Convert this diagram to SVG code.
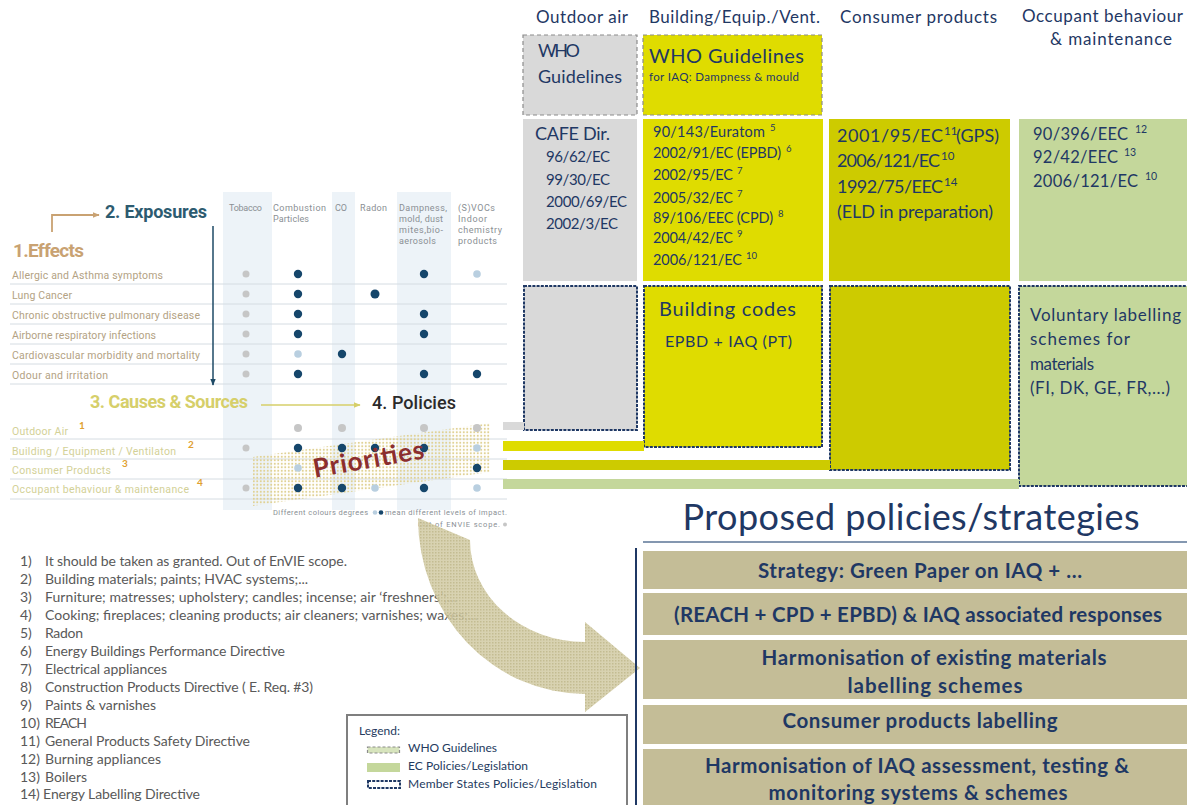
<svg xmlns="http://www.w3.org/2000/svg" width="1187" height="805" viewBox="0 0 1187 805">
<defs>
<style>
.t{font-family:Lato,"Open Sans","Liberation Sans",sans-serif;fill:#1f3864}
.hdr{font-size:17px}
.sup{font-size:9.5px}
.who{stroke:#8c8c8c;stroke-width:1.2;stroke-dasharray:4 3}
.ms{stroke:#1f3864;stroke-width:2;stroke-dasharray:3 1.2}
.gray{fill:#d9d9d9}
.yel{fill:#dfdc00}
.oli{fill:#cdcb00}
.grn{fill:#c4d79b}
.tan{fill:#c4bd97}
.pb{font-family:Lato,"Open Sans",sans-serif;font-weight:700;font-size:20.5px;fill:#1f3864;text-anchor:middle}
.fn{font-family:Lato,"Open Sans",sans-serif;font-size:14px;fill:#595959}
.lg{font-family:Lato,"Open Sans",sans-serif;font-size:12px;fill:#243a5e}
.m{font-family:Roboto,"DejaVu Sans",sans-serif}
.eff{font-size:10.5px;fill:#b3a283}
.src{font-size:10.5px;fill:#d3d197}
.colh{font-size:9px;fill:#8a8f94}
.sep{stroke:#d5dce2;stroke-width:1}
.dk{fill:#15466b}
.lb{fill:#b9cfe0}
.gy{fill:#c6c6c6}
.shade{fill:#edf3f8}
.num{font-family:Lato,sans-serif;font-weight:700;font-size:10px;fill:#e0a030}
</style>
<marker id="ahTan" viewBox="0 0 10 10" refX="9" refY="5" markerWidth="7" markerHeight="7" markerUnits="userSpaceOnUse" orient="auto"><path d="M0,1 L10,5 L0,9 z" fill="#c9a272"/></marker>
<marker id="ahNavy" viewBox="0 0 10 10" refX="9" refY="5" markerWidth="7" markerHeight="7" markerUnits="userSpaceOnUse" orient="auto"><path d="M0,1 L10,5 L0,9 z" fill="#1e4a66"/></marker>
<marker id="ahYel" viewBox="0 0 10 10" refX="9" refY="5" markerWidth="7" markerHeight="7" markerUnits="userSpaceOnUse" orient="auto"><path d="M0,1 L10,5 L0,9 z" fill="#d6cf6a"/></marker>
<pattern id="halftone" width="3.5" height="3.5" patternUnits="userSpaceOnUse"><circle cx="1.75" cy="1.75" r="1.05" fill="#e0d193"/></pattern>
<pattern id="weave" width="3" height="3" patternUnits="userSpaceOnUse"><rect width="3" height="3" fill="#d3cca6"/><rect width="1.5" height="1.5" fill="#bbb383"/></pattern>
</defs>

<rect width="1187" height="805" fill="#ffffff"/>

<!-- Left: effects / exposures / sources matrix -->
<g id="matrix">
  <rect class="shade" x="223" y="192" width="49" height="318"/>
  <rect class="shade" x="332" y="192" width="23" height="318"/>
  <rect class="shade" x="397" y="192" width="54" height="318"/>

  <g class="m colh">
    <text x="229" y="211" textLength="33">Tobacco</text>
    <text x="273" y="211" textLength="53">Combustion</text>
    <text x="273" y="222" textLength="36">Particles</text>
    <text x="335" y="211" textLength="12">CO</text>
    <text x="360" y="211" textLength="27">Radon</text>
    <text x="399" y="211" textLength="48">Dampness,</text>
    <text x="399" y="222" textLength="44">mold, dust</text>
    <text x="399" y="233" textLength="44">mites,bio-</text>
    <text x="399" y="244" textLength="37">aerosols</text>
    <text x="458" y="211" textLength="37">(S)VOCs</text>
    <text x="458" y="222" textLength="29">Indoor</text>
    <text x="458" y="233" textLength="44">chemistry</text>
    <text x="458" y="244" textLength="39">products</text>
  </g>

  <text class="m" x="105" y="218" font-size="18" font-weight="700" fill="#2d5b70" textLength="102">2. Exposures</text>
  <text class="m" x="13" y="257" font-size="19" font-weight="700" fill="#c9a272" textLength="71">1.Effects</text>

  <g class="sep">
    <line x1="10" y1="284" x2="507" y2="284"/>
    <line x1="10" y1="304" x2="507" y2="304"/>
    <line x1="10" y1="324" x2="507" y2="324"/>
    <line x1="10" y1="344" x2="507" y2="344"/>
    <line x1="10" y1="364" x2="507" y2="364"/>
    <line x1="10" y1="384" x2="507" y2="384"/>
    <line x1="10" y1="439" x2="507" y2="439"/>
    <line x1="10" y1="459" x2="507" y2="459"/>
    <line x1="10" y1="479" x2="507" y2="479"/>
    <line x1="10" y1="499" x2="507" y2="499"/>
  </g>

  <g class="m eff">
    <text x="12" y="279" textLength="151">Allergic and Asthma symptoms</text>
    <text x="12" y="299" textLength="60">Lung Cancer</text>
    <text x="12" y="319" textLength="188">Chronic obstructive pulmonary disease</text>
    <text x="12" y="339" textLength="144">Airborne respiratory infections</text>
    <text x="12" y="359" textLength="188">Cardiovascular morbidity and mortality</text>
    <text x="12" y="379" textLength="96">Odour and irritation</text>
  </g>

  <text class="m" x="90" y="408" font-size="18" font-weight="700" fill="#d6cf6a" textLength="158">3. Causes &amp; Sources</text>
  <text class="m" x="372" y="409" font-size="18" font-weight="500" fill="#2a2a2a" textLength="84">4. Policies</text>

  <g class="m src">
    <text x="12" y="435" textLength="56">Outdoor Air</text>
    <text x="12" y="455" textLength="164">Building / Equipment / Ventilaton</text>
    <text x="12" y="474" textLength="99">Consumer Products</text>
    <text x="12" y="493" textLength="177">Occupant behaviour &amp; maintenance</text>
  </g>
  <text class="num" x="79" y="429">1</text>
  <text class="num" x="188" y="448">2</text>
  <text class="num" x="122" y="467">3</text>
  <text class="num" x="197" y="486">4</text>

  <!-- impact dots: effects rows -->
  <g>
    <circle class="gy" cx="246" cy="274" r="3.5"/><circle class="dk" cx="298" cy="274" r="4.2"/><circle class="dk" cx="424" cy="274" r="4.2"/><circle class="lb" cx="477" cy="274" r="3.8"/>
    <circle class="gy" cx="246" cy="294" r="3.5"/><circle class="dk" cx="298" cy="294" r="4.2"/><circle class="dk" cx="375" cy="294" r="4.5"/>
    <circle class="gy" cx="246" cy="314" r="3.5"/><circle class="dk" cx="298" cy="314" r="4.2"/><circle class="dk" cx="424" cy="314" r="4.2"/>
    <circle class="gy" cx="246" cy="334" r="3.5"/><circle class="dk" cx="298" cy="334" r="4.2"/><circle class="dk" cx="424" cy="334" r="4.2"/>
    <circle class="gy" cx="246" cy="354" r="3.5"/><circle class="lb" cx="298" cy="354" r="3.8"/><circle class="dk" cx="342" cy="354" r="4.2"/>
    <circle class="gy" cx="246" cy="374" r="3.5"/><circle class="dk" cx="298" cy="374" r="4.2"/><circle class="dk" cx="424" cy="374" r="4.2"/><circle class="dk" cx="477" cy="374" r="4.2"/>
  </g>

  <!-- priority band behind the label -->
  <polygon points="253,457 490,423 490,472 253,506" fill="url(#halftone)"/>

  <!-- impact dots: source rows -->
  <g>
    <circle class="gy" cx="298" cy="428" r="4"/><circle class="gy" cx="342" cy="428" r="4"/><circle class="gy" cx="424" cy="428" r="4"/><circle class="gy" cx="477" cy="428" r="4"/>
    <circle class="gy" cx="246" cy="448" r="3.5"/><circle class="dk" cx="298" cy="448" r="4.2"/><circle class="dk" cx="342" cy="448" r="4.2"/><circle class="dk" cx="375" cy="448" r="4.2"/><circle class="dk" cx="424" cy="448" r="4.2"/><circle class="lb" cx="477" cy="448" r="3.8"/>
    <circle class="lb" cx="298" cy="468" r="3.8"/><circle class="dk" cx="477" cy="468" r="4.2"/>
    <circle class="gy" cx="246" cy="488" r="3.5"/><circle class="dk" cx="298" cy="488" r="4.2"/><circle class="dk" cx="342" cy="488" r="4.2"/><circle class="lb" cx="375" cy="488" r="3.8"/><circle class="dk" cx="424" cy="488" r="4.2"/><circle class="lb" cx="477" cy="488" r="3.8"/>
  </g>

  <text x="370" y="468" transform="rotate(-10 370 468)" text-anchor="middle" font-family="Lato,'Open Sans',sans-serif" font-weight="700" font-size="26" fill="#8b2e2e" textLength="112">Priorities</text>

  <g class="m" font-size="7.5" fill="#8a9095">
    <text x="273" y="515" textLength="95">Different colours degrees</text>
    <circle cx="375" cy="512.5" r="2.3" fill="#b9cfe0"/>
    <circle cx="381" cy="512.5" r="2.3" fill="#15466b"/>
    <text x="385" y="515" textLength="122">mean different levels of impact.</text>
    <text x="418" y="527" textLength="82">Out of ENVIE scope.</text>
    <circle cx="505" cy="524.5" r="2" fill="#c6c6c6"/>
  </g>
</g>

<!-- Policy columns -->
<g id="col-outdoor">
  <text class="t hdr" x="536" y="23" textLength="92">Outdoor air</text>
  <rect class="gray who" x="523" y="35" width="114" height="80"/>
  <text class="t" x="538" y="57" font-size="18" textLength="42">WHO</text>
  <text class="t" x="538" y="83" font-size="18" textLength="84">Guidelines</text>
  <rect class="gray" x="523" y="119" width="114" height="162"/>
  <text class="t" x="535" y="140" font-size="18" textLength="75">CAFE Dir.</text>
  <text class="t" x="546" y="162" font-size="15" textLength="64">96/62/EC</text>
  <text class="t" x="546" y="185" font-size="15" textLength="64">99/30/EC</text>
  <text class="t" x="546" y="207" font-size="15" textLength="81">2000/69/EC</text>
  <text class="t" x="546" y="229" font-size="15" textLength="72">2002/3/EC</text>
  <rect class="gray ms" x="524" y="286" width="113" height="144"/>
</g>

<g id="col-building">
  <text class="t hdr" x="649" y="23" textLength="171">Building/Equip./Vent.</text>
  <rect class="yel who" x="643" y="35" width="179" height="80"/>
  <text class="t" x="649" y="63" font-size="20" textLength="155">WHO Guidelines</text>
  <text class="t" x="649" y="81" font-size="11.5" textLength="150">for IAQ: Dampness &amp; mould</text>
  <rect class="yel" x="643" y="119" width="180" height="162"/>
  <g class="t" font-size="14.5">
    <text x="653" y="137" textLength="112">90/143/Euratom</text>
    <text x="653" y="158" textLength="128">2002/91/EC (EPBD)</text>
    <text x="653" y="180" textLength="80">2002/95/EC</text>
    <text x="653" y="203" textLength="80">2005/32/EC</text>
    <text x="653" y="223" textLength="120">89/106/EEC (CPD)</text>
    <text x="653" y="243" textLength="80">2004/42/EC</text>
    <text x="653" y="265" textLength="89">2006/121/EC</text>
  </g>
  <g class="t sup">
    <text x="770" y="131">5</text>
    <text x="786" y="152">6</text>
    <text x="737" y="174">7</text>
    <text x="737" y="197">7</text>
    <text x="778" y="217">8</text>
    <text x="737" y="237">9</text>
    <text x="746" y="259">10</text>
  </g>
  <rect class="yel ms" x="644" y="286" width="178" height="161"/>
  <text class="t" x="659" y="316" font-size="20" textLength="137">Building codes</text>
  <text class="t" x="665" y="347" font-size="16" textLength="127">EPBD + IAQ (PT)</text>
</g>

<g id="col-consumer">
  <text class="t hdr" x="840" y="23" textLength="157">Consumer products</text>
  <rect class="oli" x="829" y="119" width="181" height="162"/>
  <g class="t" font-size="18">
    <text x="837" y="142" textLength="106">2001/95/EC</text>
    <text x="956" y="142" textLength="43">(GPS)</text>
    <text x="837" y="167" textLength="103">2006/121/EC</text>
    <text x="837" y="193" textLength="106">1992/75/EEC</text>
    <text x="837" y="218" textLength="156">(ELD in preparation)</text>
  </g>
  <g class="t" font-size="11.5">
    <text x="944" y="135">11</text>
    <text x="941" y="160">10</text>
    <text x="944" y="186">14</text>
  </g>
  <rect class="oli ms" x="830" y="286" width="180" height="184"/>
</g>

<g id="col-occupant">
  <text class="t hdr" x="1022" y="22" textLength="161">Occupant behaviour</text>
  <text class="t hdr" x="1050" y="45" textLength="122">&amp; maintenance</text>
  <rect class="grn" x="1019" y="119" width="168" height="162"/>
  <g class="t" font-size="16.5">
    <text x="1033" y="140" textLength="95">90/396/EEC</text>
    <text x="1033" y="163" textLength="85">92/42/EEC</text>
    <text x="1033" y="187" textLength="105">2006/121/EC</text>
  </g>
  <g class="t" font-size="10.5">
    <text x="1135" y="133">12</text>
    <text x="1124" y="156">13</text>
    <text x="1145" y="180">10</text>
  </g>
  <rect class="grn ms" x="1019" y="286" width="172" height="200"/>
  <g class="t" font-size="17">
    <text x="1030" y="321" textLength="151">Voluntary labelling</text>
    <text x="1030" y="345" textLength="100">schemes for</text>
    <text x="1030" y="370" textLength="64">materials</text>
    <text x="1030" y="394" textLength="140">(FI, DK, GE, FR,...)</text>
  </g>
</g>

<!-- Connectors: matrix arrows, source-to-column bars -->
<g id="connectors">
  <path d="M52,232 V215 H99" fill="none" stroke="#c9a272" stroke-width="1.8" marker-end="url(#ahTan)"/>
  <path d="M213,226 V385" fill="none" stroke="#1e4a66" stroke-width="1.5" marker-end="url(#ahNavy)"/>
  <path d="M261,405 H360" fill="none" stroke="#d6cf6a" stroke-width="1.5" marker-end="url(#ahYel)"/>
  <rect class="gray" x="503" y="422" width="21" height="8"/>
  <rect class="yel" x="503" y="441" width="141" height="10"/>
  <rect class="oli" x="503" y="460" width="327" height="10"/>
  <rect class="grn" x="503" y="479" width="516" height="10"/>
</g>

<!-- Footnotes -->
<g id="footnotes" class="fn">
  <text x="20" y="566">1)</text><text x="45" y="566" textLength="302">It should be taken as granted. Out of EnVIE scope.</text>
  <text x="20" y="584">2)</text><text x="45" y="584" textLength="263">Building materials; paints; HVAC systems;...</text>
  <text x="20" y="602">3)</text><text x="45" y="602" textLength="412">Furniture; matresses; upholstery; candles; incense; air ‘freshners’;...</text>
  <text x="20" y="620">4)</text><text x="45" y="620" textLength="433">Cooking; fireplaces; cleaning products; air cleaners; varnishes; waxes;...</text>
  <text x="20" y="638">5)</text><text x="45" y="638" textLength="38">Radon</text>
  <text x="20" y="656">6)</text><text x="45" y="656" textLength="240">Energy Buildings Performance Directive</text>
  <text x="20" y="674">7)</text><text x="45" y="674" textLength="122">Electrical appliances</text>
  <text x="20" y="692">8)</text><text x="45" y="692" textLength="268">Construction Products Directive ( E. Req. #3)</text>
  <text x="20" y="710">9)</text><text x="45" y="710" textLength="111">Paints &amp; varnishes</text>
  <text x="20" y="728">10)</text><text x="45" y="728" textLength="42">REACH</text>
  <text x="20" y="746">11)</text><text x="45" y="746" textLength="205">General Products Safety Directive</text>
  <text x="20" y="764">12)</text><text x="45" y="764" textLength="116">Burning appliances</text>
  <text x="20" y="782">13)</text><text x="45" y="782" textLength="42">Boilers</text>
  <text x="20" y="799" textLength="180">14) Energy Labelling Directive</text>
</g>

<!-- Curved arrow from priorities to proposals -->
<g id="priority-arrow">
  <path d="M418,518 A167,176 0 0 0 585,694 L585,712 L640,668 L585,622 L585,642 A115,102 0 0 1 470,540 Z" fill="url(#weave)" opacity="0.88"/>
</g>

<!-- Legend -->
<g id="legend">
  <rect x="347" y="715" width="280" height="95" fill="#ffffff" stroke="#7f7f7f" stroke-width="2"/>
  <text class="lg" x="359" y="735">Legend:</text>
  <rect x="367.5" y="747" width="32" height="6" fill="#d7e4bd" stroke="#8c8c8c" stroke-width="1.2" stroke-dasharray="3 2"/>
  <text class="lg" x="408" y="752" textLength="89">WHO Guidelines</text>
  <rect x="367" y="763" width="33" height="9" fill="#c4d79b"/>
  <text class="lg" x="408" y="770" textLength="120">EC Policies/Legislation</text>
  <rect x="368" y="781" width="32" height="7" fill="#ffffff" stroke="#1f3864" stroke-width="2" stroke-dasharray="3 1.2"/>
  <text class="lg" x="408" y="788" textLength="189">Member States Policies/Legislation</text>
</g>

<!-- Proposed policies panel -->
<g id="proposals">
  <text class="t" x="911" y="530" font-size="36" text-anchor="middle" textLength="457">Proposed policies/strategies</text>
  <line x1="643" y1="542" x2="1187" y2="542" stroke="#8497b0" stroke-width="2"/>
  <line x1="636" y1="548" x2="636" y2="805" stroke="#1f3864" stroke-width="2"/>
  <g id="p1"><rect class="tan" x="643" y="551" width="544" height="38"/><text class="pb" x="920" y="578" textLength="324">Strategy: Green Paper on IAQ + ...</text></g>
  <g id="p2"><rect class="tan" x="643" y="593" width="544" height="42"/><text class="pb" x="918" y="622" textLength="488">(REACH + CPD + EPBD) &amp; IAQ associated responses</text></g>
  <g id="p3"><rect class="tan" x="643" y="640" width="544" height="59"/><text class="pb" x="934" y="665" textLength="345">Harmonisation of existing materials</text><text class="pb" x="935" y="693" textLength="175">labelling  schemes</text></g>
  <g id="p4"><rect class="tan" x="643" y="705" width="544" height="39"/><text class="pb" x="920" y="728" textLength="275">Consumer products labelling</text></g>
  <g id="p5"><rect class="tan" x="643" y="749" width="544" height="60"/><text class="pb" x="917" y="773" textLength="424">Harmonisation of IAQ assessment, testing &amp;</text><text class="pb" x="918" y="800" textLength="299">monitoring systems &amp; schemes</text></g>
</g>
</svg>
